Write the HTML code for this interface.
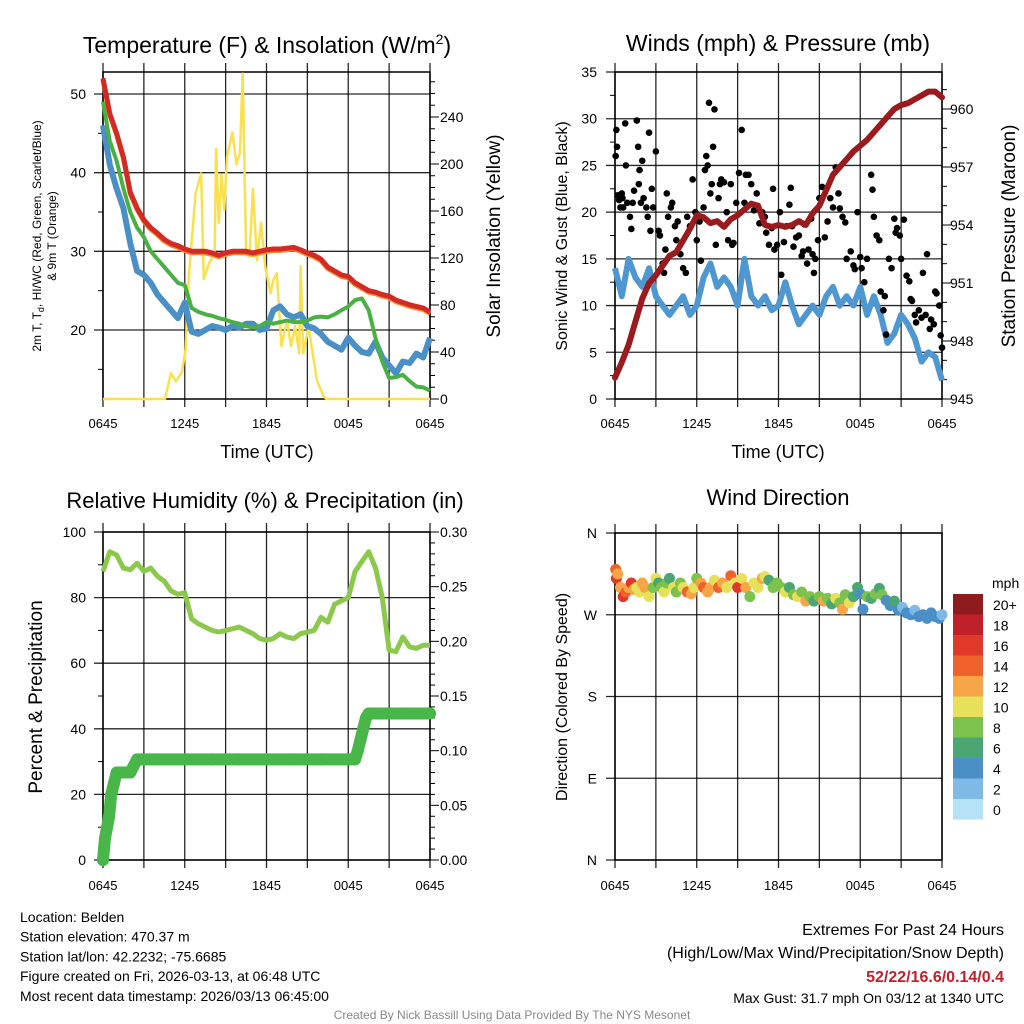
<!DOCTYPE html>
<html><head><meta charset="utf-8"><style>
html,body{margin:0;padding:0;background:#fff;}
svg{display:block;font-family:"Liberation Sans",Arial,sans-serif;}
</style></head><body>
<svg id="s" width="1024" height="1024" viewBox="0 0 1024 1024"></svg>
<script>
// ---------- DATA ----------
const hours = [0,0.5,1,1.5,2,2.5,3,3.5,4,4.5,5,5.5,6,6.5,7,7.5,8,8.5,9,9.5,10,10.5,11,11.5,12,12.5,13,13.5,14,14.5,15,15.5,16,16.5,17,17.5,18,18.5,19,19.5,20,20.5,21,21.5,22,22.5,23,23.5,24];
const xTickLabels = ["0645","1245","1845","0045","0645"];
const tempRed = [52,47.5,45,42,37.5,35.5,34,33,32.3,31.5,31,30.7,30.3,30,30,30,29.8,29.5,29.8,30,30,30,29.8,30,30.2,30.3,30.3,30.4,30.5,30.2,29.8,29.5,29,28,27.5,27,26.8,26,25.5,25,24.8,24.5,24.3,23.8,23.5,23.2,23,22.8,22.3];
const tempGreen = [49,44,41.5,38,35,33,31.8,30,29,28,27,26,25.7,22.8,22.3,22,21.8,21.5,21.3,21,20.8,20.5,20.3,20.5,21,20.8,21,21.2,21,21,21.2,21.6,21.7,21.6,22,22.5,23,23.8,24,22.5,19,16,13.9,14,14.3,13.5,12.8,12.7,12.3];
const tempBlue = [46,41,38,35.5,31,27.5,27,26,24.5,23.5,22.5,21.5,23.5,19.8,19.5,20,20.5,20.3,20,20.5,20.3,20.8,20.8,20,20.2,22.5,23,22,21.6,22,20.5,20.2,19.5,18.5,18,17.5,19,18,17.2,17,18.5,16.5,15.5,14.5,16,15.8,17,16.5,19];
const insolHours = [0,4.55,4.98,5.35,5.8,6.06,6.3,6.8,7.2,7.4,7.8,8.2,8.3,8.5,8.7,8.9,9.1,9.5,9.8,10.05,10.25,10.5,10.75,11,11.3,11.6,11.9,12.3,12.5,12.75,13.1,13.5,13.8,14.1,14.4,14.5,14.7,15.1,15.3,15.7,16.2,16.4,24];
const insol = [0,0,22,15,23,42,104,175,192,102,116,124,213,150,191,161,206,227,200,209,277,124,121,179,118,150,113,90,101,107,45,67,45,62,39,113,39,62,45,16,2,0,0];
const windSpeed = [14,11,15,13,12,14,11,10,9,10,11,9,10,13,14.5,12,13,12,10,15,11,10,11,9.5,10,12.5,10,8,9,10,9,11,12,10,11,10,12,9,11,9,6,7,9,8,6.5,4,5,4.5,2];
const pressure = [946.1,946.9,947.8,949,950.2,951,951.4,951.9,952.4,952.6,953.2,953.8,954.5,954.4,954.1,954.2,953.9,954.3,954.5,954.8,955.1,955,954,953.9,954,953.9,954,954.2,954,954.6,955,955.8,956.6,957,957.4,957.8,958.1,958.4,958.8,959.2,959.6,960,960.2,960.3,960.5,960.7,960.9,960.9,960.6];
const gustHours = [0.05,0.1,0.15,0.2,0.3,0.4,0.5,0.55,0.6,0.75,0.8,0.9,1.1,1.2,1.3,1.4,1.6,1.7,1.75,1.8,1.9,2.0,2.1,2.3,2.4,2.5,2.6,2.7,2.8,3.0,3.2,3.3,3.5,3.6,3.7,3.8,3.9,4.1,4.2,4.4,4.5,4.6,4.8,5.0,5.2,5.3,5.5,5.7,5.9,6.0,6.2,6.3,6.5,6.6,6.7,6.8,6.9,7.0,7.1,7.2,7.3,7.4,7.6,7.7,7.8,8.0,8.2,8.3,8.5,8.6,8.7,8.9,9.1,9.3,9.5,9.6,9.8,10.0,10.2,10.4,10.6,10.8,11.0,11.1,11.3,11.5,11.6,11.7,11.9,12.1,12.2,12.4,12.6,12.8,12.9,13.0,13.1,13.3,13.5,13.7,13.8,13.9,14.1,14.2,14.4,14.5,14.6,14.7,14.9,15.0,15.2,15.4,15.6,15.8,16.0,16.2,16.4,16.5,16.7,16.9,17.0,17.3,17.5,17.6,17.8,18.0,18.1,18.3,18.5,18.8,18.9,19.0,19.2,19.4,19.5,19.7,19.8,19.9,20.1,20.3,20.5,20.6,20.7,20.9,21.0,21.2,21.4,21.6,21.7,21.8,22.0,22.1,22.3,22.5,22.6,22.8,22.9,23.1,23.2,23.4,23.5,23.6,23.8,23.9,24.0];
const gustValues = [26,28.8,27,21.8,21.3,20.5,22,21.5,20.5,29.5,25,21,19.5,18.2,21,22.3,29.8,27,23,24.5,21,25.5,21.5,20.5,19.5,28.5,18,22.5,20.5,26.5,18,17.5,14.5,13.5,16,22,19.5,20.5,21,18.5,17,19,15.5,14,13.5,19.5,18.5,23.5,20,17,19,14.8,20.5,24.5,26,25,31.7,22,23,27,31,16.5,21.5,23,23.5,23.2,20,17,23,16.5,16.7,21,24.2,28.8,21,24,24,23,20.2,22,18.8,20,19.5,17.8,16.5,18.3,22.5,16,16.5,20,13.3,16.8,18.5,20.8,22.6,18.5,16.3,17.3,17.5,15.3,15.8,18.7,14.5,16,19.3,15.5,13.5,15,17,21.5,22.7,17.3,19,21.5,20.5,24.8,22,20.4,19.5,18.9,15,15.8,14.3,13.9,20,15.2,14,12.5,15,24,22.4,19.5,17.5,17,11.5,9.5,11,6.9,15,14,19.3,17.8,18.3,17.5,15,19.2,13.2,12.6,10.7,10.5,9,8.2,9.5,8.7,13.5,9,15.5,7.5,8.5,8,11.5,11.3,10,6.8,5.5];
const rh = [88,94,93,89,88.5,90.5,88,89,86.5,85,82,81,81.5,73.5,72,71,70,69.5,70,70.5,71,70,69,67.5,67,67.5,69,68,67.5,69,69.5,70,74,72.5,78,79,80,88,91,94,89,80,64,63.5,68,65,64.5,65.5,65.5];
const precipHours = [0,0.15,0.3,0.45,0.6,0.8,1,1.5,2,2.5,3,4,6,8,10,12,14,16,18,18.5,18.7,18.9,19.1,19.3,19.5,20,22,24];
const precip = [0,0.02,0.03,0.04,0.06,0.07,0.08,0.08,0.08,0.092,0.092,0.092,0.092,0.092,0.092,0.092,0.092,0.092,0.092,0.092,0.1,0.11,0.12,0.13,0.134,0.134,0.134,0.134];
const dirHours = [0.05,0.1,0.2,0.4,0.6,0.8,1.0,1.2,1.4,1.6,1.8,2.0,2.2,2.5,2.8,3.0,3.2,3.4,3.6,3.8,4.0,4.3,4.5,4.8,5.0,5.3,5.6,5.8,6.0,6.3,6.5,6.8,7.0,7.3,7.6,7.9,8.2,8.5,8.8,9.0,9.3,9.6,9.9,10.2,10.5,10.8,11.0,11.3,11.6,11.9,12.2,12.5,12.8,13.1,13.4,13.7,14.0,14.3,14.6,15.0,15.3,15.6,15.9,16.2,16.5,16.7,16.9,17.2,17.5,17.8,18.0,18.2,18.5,18.8,19.1,19.4,19.6,19.9,20.2,20.5,20.8,21.1,21.4,21.7,22.0,22.3,22.6,22.9,23.2,23.5,23.8,24.0];
const dirDeg = [320,310,315,300,290,295,300,305,298,300,295,305,300,290,300,310,305,300,295,305,310,300,295,305,300,295,293,300,310,305,300,295,300,308,300,305,300,313,305,300,310,300,290,305,300,310,312,308,300,305,300,295,300,292,290,295,285,290,285,290,285,288,282,288,283,276,292,283,290,300,293,276,290,288,293,299,292,286,280,285,275,278,272,270,275,268,270,266,272,268,266,270];
const dirSpeed = [14,17,13,12,16,15,13,16,12,11,10,12,13,11,8,10,7,9,10,8,6,10,9,8,10,14,13,11,8,12,15,13,12,10,14,12,11,14,10,16,11,12,9,10,10,12,11,6,8,8,8,10,7,8,10,8,12,8,7,8,12,8,7,10,8,12,8,10,6,6,4,4,8,7,8,6,8,4,4,6,4,3,4,4,3,4,4,4,4,4,4,3];
const cbLabels = ["20+","18","16","14","12","10","8","6","4","2","0"];
const cbColors = ["#8e1b1e","#c0202a","#e0382a","#f0622c","#f7a546","#e6e05a","#7dc24c","#4aa672","#4a8fc6","#7fbae6","#b5e2f7"];

// ---------- HELPERS ----------
const S = document.getElementById('s');
const NS = 'http://www.w3.org/2000/svg';
function mk(tag, attrs, parent){const e=document.createElementNS(NS,tag);for(const k in attrs)e.setAttribute(k,attrs[k]);(parent||S).appendChild(e);return e;}
function txt(x,y,s,size,anchor,parent,extra){const t=mk('text',Object.assign({x:x,y:y,'font-size':size,'text-anchor':anchor||'start',fill:'#000'},extra||{}),parent);t.textContent=s;return t;}
function linear(d0,d1,r0,r1){return v=>r0+(v-d0)/(d1-d0)*(r1-r0);}
function pathFrom(xs,ys,fx,fy){return xs.map((h,i)=>(i?'L':'M')+fx(h).toFixed(1)+' '+fy(ys[i]).toFixed(1)).join(' ');}
function speedColor(v){let i=Math.min(10,Math.floor(v/2));return cbColors[10-i];}

function frame(g,L,T,R,B,hGrid,vGrid){
  vGrid.forEach(x=>{mk('line',{x1:x,y1:T-9,x2:x,y2:B+8,stroke:'#000','stroke-width':1.3,'stroke-opacity':0.85},g);});
  hGrid.forEach(y=>{mk('line',{x1:L-9,y1:y,x2:R,y2:y,stroke:'#000','stroke-width':1.3,'stroke-opacity':0.85},g);});
  mk('rect',{x:L,y:T,width:R-L,height:B-T,fill:'none',stroke:'#000','stroke-width':1.5},g);
}

// ---------- PANEL 1 ----------
(function(){
  const g=mk('g',{});  
  const L=103,R=430,T=72,B=399;
  const fx=linear(0,24,L,R), fy=linear(20,50,330,94), fi=linear(0,240,399,117);
  const vg=[0,3,6,9,12,15,18,21,24].map(fx);
  frame(g,L,T,R,B,[20,30,40,50].map(fy),vg);
  [15,25,35,45].forEach(v=>mk('line',{x1:L-5,y1:fy(v),x2:L,y2:fy(v),stroke:'#000'},g));
  for(let v=0;v<=270;v+=10){mk('line',{x1:R,y1:fi(v),x2:R+(v%40==0?9:5),y2:fi(v),stroke:'#000'},g);}
  [20,30,40,50].forEach(v=>txt(86,fy(v)+5,String(v),14,'end',g));
  [0,40,80,120,160,200,240].forEach(v=>txt(440,fi(v)+5,String(v),14,'start',g));
  xTickLabels.forEach((s,i)=>txt(vg[i*2],428,s,13,'middle',g));
  const sl=mk('path',{d:pathFrom(insolHours,insol,fx,fi),fill:'none',stroke:'#f9e04e','stroke-width':2.5,'stroke-linejoin':'round'},g);
   
  const lb=mk('path',{d:pathFrom(hours,tempBlue,fx,fy),fill:'none',stroke:'#4a8fc6','stroke-width':6,'stroke-linejoin':'round'},g);
   
  const lg=mk('path',{d:pathFrom(hours,tempGreen,fx,fy),fill:'none',stroke:'#4bb043','stroke-width':4,'stroke-linejoin':'round'},g);
   
  const lo=mk('path',{d:pathFrom(hours,tempRed,fx,v=>fy(v)+1.5),fill:'none',stroke:'#f58a2c','stroke-width':5,'stroke-linejoin':'round'},g);
   
  const lr=mk('path',{d:pathFrom(hours,tempRed,fx,fy),fill:'none',stroke:'#d42a24','stroke-width':5,'stroke-linejoin':'round'},g);
   
  const t=mk('text',{x:267,y:53,'font-size':23,'text-anchor':'middle'},g); t.innerHTML='Temperature (F) &amp; Insolation (W/m<tspan dy="-9" font-size="14">2</tspan><tspan dy="9">)</tspan>';
   
  txt(267,458,'Time (UTC)',18,'middle',g);
  const yl=mk('text',{x:0,y:0,'font-size':12,'text-anchor':'middle',transform:'translate(41,236) rotate(-90)'},g);
  yl.innerHTML='2m T, T<tspan dy="3" font-size="9">d</tspan><tspan dy="-3">, HI/WC (Red, Green, Scarlet/Blue)</tspan>';
  txt(0,0,'& 9m T (Orange)',12,'middle',g,{transform:'translate(56,236) rotate(-90)'});
  txt(0,0,'Solar Insolation (Yellow)',19,'middle',g,{transform:'translate(500,236) rotate(-90)'});
})();

// ---------- PANEL 2 ----------
(function(){
  const g=mk('g',{});  
  const L=615,R=942,T=72,B=399;
  const fx=linear(0,24,L,R), fy=linear(0,35,399,72), fp=linear(945,960,399,109);
  const vg=[0,3,6,9,12,15,18,21,24].map(fx);
  frame(g,L,T,R,B,[0,5,10,15,20,25,30,35].map(fy),vg);
  [2.5,7.5,12.5,17.5,22.5,27.5,32.5].forEach(v=>mk('line',{x1:L-5,y1:fy(v),x2:L,y2:fy(v),stroke:'#000'},g));
  for(let v=945;v<=961.5;v+=1){mk('line',{x1:R,y1:fp(v),x2:R+((v-945)%3==0?9:5),y2:fp(v),stroke:'#000'},g);}
  [0,5,10,15,20,25,30,35].forEach(v=>txt(597,fy(v)+5,String(v),14,'end',g));
  [945,948,951,954,957,960].forEach(v=>txt(950,fp(v)+5,String(v),14,'start',g));
  xTickLabels.forEach((s,i)=>txt(vg[i*2],428,s,13,'middle',g));
  const lw=mk('path',{d:pathFrom(hours,windSpeed,fx,fy),fill:'none',stroke:'#4f97d0','stroke-width':6,'stroke-linejoin':'round'},g);
   
  gustHours.forEach((h,i)=>{const c=mk('circle',{cx:fx(h),cy:fy(gustValues[i]),r:3.3,fill:'#000'},g);
    
    });
  const lp=mk('path',{d:pathFrom(hours,pressure,fx,fp),fill:'none',stroke:'#9a1b1e','stroke-width':6,'stroke-linejoin':'round','stroke-linecap':'round'},g);
   
  txt(778,51,'Winds (mph) & Pressure (mb)',23,'middle',g);
  txt(778,458,'Time (UTC)',18,'middle',g);
  txt(0,0,'Sonic Wind & Gust (Blue, Black)',16,'middle',g,{transform:'translate(567,236) rotate(-90)'});
  txt(0,0,'Station Pressure (Maroon)',19,'middle',g,{transform:'translate(1015,236) rotate(-90)'});
})();

// ---------- PANEL 3 ----------
(function(){
  const g=mk('g',{});  
  const L=103,R=430,T=532,B=860;
  const fx=linear(0,24,L,R), fy=linear(0,100,860,532), fp=linear(0,0.3,860,532);
  const vg=[0,3,6,9,12,15,18,21,24].map(fx);
  frame(g,L,T,R,B,[0,20,40,60,80,100].map(fy),vg);
  [10,30,50,70,90].forEach(v=>mk('line',{x1:L-5,y1:fy(v),x2:L,y2:fy(v),stroke:'#000'},g));
  for(let i=0;i<=30;i++){const v=i/100;mk('line',{x1:R,y1:fp(v),x2:R+(i%5==0?9:5),y2:fp(v),stroke:'#000'},g);}
  [0,20,40,60,80,100].forEach(v=>txt(86,fy(v)+5,String(v),14,'end',g));
  ['0.00','0.05','0.10','0.15','0.20','0.25','0.30'].forEach((s,i)=>txt(440,fp(i*0.05)+5,s,14,'start',g));
  xTickLabels.forEach((s,i)=>txt(vg[i*2],890,s,13,'middle',g));
  const lr=mk('path',{d:pathFrom(hours,rh,fx,fy),fill:'none',stroke:'#8cc84b','stroke-width':5,'stroke-linejoin':'round'},g);
   
  const lp=mk('path',{d:pathFrom(precipHours,precip,fx,fp),fill:'none',stroke:'#48b648','stroke-width':12,'stroke-linejoin':'round','stroke-linecap':'round'},g);
   
  precipHours.forEach((h,i)=>{const c=mk('circle',{cx:fx(h),cy:fp(precip[i]),r:6,fill:'#48b648'},g);
    
    });
  txt(265,508,'Relative Humidity (%) & Precipitation (in)',22,'middle',g);
  txt(0,0,'Percent & Precipitation',19,'middle',g,{transform:'translate(42,697) rotate(-90)'});
})();

// ---------- PANEL 4 ----------
(function(){
  const g=mk('g',{});  
  const L=615,R=942,T=533,B=860;
  const fx=linear(0,24,L,R), fy=linear(0,360,860,533);
  const vg=[0,3,6,9,12,15,18,21,24].map(fx);
  frame(g,L,T,R,B,[0,90,180,270,360].map(fy),vg);
  ['N','E','S','W','N'].forEach((s,i)=>txt(597,fy(i*90)+5,s,14,'end',g));
  xTickLabels.forEach((s,i)=>txt(vg[i*2],890,s,13,'middle',g));
  dirHours.forEach((h,i)=>{const c=mk('circle',{cx:fx(h),cy:fy(dirDeg[i]),r:5.5,fill:speedColor(dirSpeed[i])},g);
    
    });
  txt(778,505,'Wind Direction',22,'middle',g);
  txt(0,0,'Direction (Colored By Speed)',16,'middle',g,{transform:'translate(567,697) rotate(-90)'});
  const cb=mk('g',{},g);  
  txt(992,588,'mph',14,'start',cb);
  cbColors.forEach((c,i)=>{mk('rect',{x:953,y:594+i*20.5,width:30,height:20.6,fill:c},cb);
    txt(993,594+i*20.5+16,cbLabels[i],14,'start',cb);});
})();

// ---------- FOOTER ----------
(function(){
  const g=mk('g',{});  
  ['Location: Belden','Station elevation: 470.37 m','Station lat/lon: 42.2232; -75.6685','Figure created on Fri, 2026-03-13, at 06:48 UTC','Most recent data timestamp: 2026/03/13 06:45:00'].forEach((s,i)=>txt(20,922+i*19.7,s,14,'start',g));
  const e=mk('g',{});  
  txt(1004,935,'Extremes For Past 24 Hours',16,'end',e);
  txt(1004,958,'(High/Low/Max Wind/Precipitation/Snow Depth)',16,'end',e);
  txt(1004,982,'52/22/16.6/0.14/0.4',16,'end',e,{fill:'#c0202a','font-weight':'bold'});
  txt(1004,1003,'Max Gust: 31.7 mph On 03/12 at 1340 UTC',14,'end',e);
  const c=txt(512,1019,'Created By Nick Bassill Using Data Provided By The NYS Mesonet',12,'middle',null,{fill:'#888'});
   
})();
</script>
</body></html>
